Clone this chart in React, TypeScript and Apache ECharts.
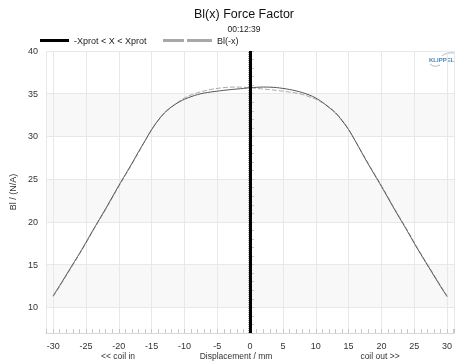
import React, { useEffect, useRef } from "react";
import * as echarts from "echarts";

const displacement = [
  -30, -29, -28, -27, -26, -25, -24, -23, -22, -21, -20, -19, -18, -17, -16, -15,
  -14, -13, -12, -11, -10, -9, -8, -7, -6, -5, -4, -3, -2, -1, 0, 1, 2, 3, 4, 5,
  6, 7, 8, 9, 10, 11, 12, 13, 14, 15, 16, 17, 18, 19, 20, 21, 22, 23, 24, 25, 26,
  27, 28, 29, 30,
];
const blValues = [
  11.35, 12.55, 13.8, 15.05, 16.3, 17.6, 18.95, 20.25, 21.55, 22.9, 24.25, 25.55,
  26.85, 28.2, 29.5, 30.8, 31.9, 32.8, 33.45, 33.95, 34.35, 34.65, 34.9, 35.08,
  35.2, 35.3, 35.4, 35.48, 35.55, 35.62, 35.7, 35.75, 35.78, 35.77, 35.72, 35.62,
  35.5, 35.33, 35.12, 34.85, 34.5, 34.0, 33.4, 32.75, 31.85, 30.8, 29.5, 28.1,
  26.75, 25.45, 24.15, 22.8, 21.45, 20.15, 18.85, 17.5, 16.2, 14.95, 13.7, 12.45,
  11.25,
];
const xprot = [0];
const xRange = [-31.1, 31.1];
const yRange = [7, 40];

const FONT = "Liberation Sans, Arial, sans-serif";

export default function App() {
  const ref = useRef<HTMLDivElement>(null);
  useEffect(() => {
    if (!ref.current) return;
    const chart = echarts.init(ref.current, null, { renderer: "svg" });
    const mirror = blValues.slice().reverse();
    chart.setOption({
      animation: false,
      textStyle: { fontFamily: FONT },
      grid: { left: 40, right: -7, top: 51, bottom: 28, containLabel: false },
      legend: [
        {
          data: ["-Xprot < X < Xprot"],
          left: 40,
          top: 36,
          itemWidth: 29,
          itemHeight: 3,
          icon: "rect",
          padding: 0,
          textStyle: { fontSize: 9, color: "#222", fontFamily: FONT },
        },
        {
          data: ["Bl(-x)"],
          left: 163,
          top: 36,
          itemWidth: 49,
          itemHeight: 3,
          icon: "path://M0 0h21v3h-21z M24 0h25v3h-25z",
          padding: 0,
          textStyle: { fontSize: 9, color: "#222", fontFamily: FONT },
        },
      ],
      xAxis: {
        type: "value",
        min: xRange[0],
        max: xRange[1],
        splitNumber: 12,
        axisLine: { show: true, lineStyle: { color: "#d8d8d8" } },
        axisTick: { show: true, inside: true, length: 4, lineStyle: { color: "#c8c8c8" } },
        minorTick: { show: true, splitNumber: 5, length: 4, lineStyle: { color: "#c8c8c8" } },
        axisLabel: {
          fontSize: 9,
          color: "#333",
          margin: 8,
          showMinLabel: false,
          showMaxLabel: false,
          fontFamily: FONT,
        },
        splitLine: { show: true, lineStyle: { color: "#e8e8e8" } },
      },
      yAxis: {
        type: "value",
        min: yRange[0],
        max: yRange[1],
        splitNumber: 7,
        name: "Bl / (N/A)",
        nameLocation: "middle",
        nameGap: 27,
        nameTextStyle: { fontSize: 9, color: "#333", fontFamily: FONT },
        axisLine: { show: true, lineStyle: { color: "#d8d8d8" } },
        axisTick: { show: true, inside: true, length: 4, lineStyle: { color: "#c8c8c8" } },
        minorTick: { show: true, splitNumber: 5, length: 4, lineStyle: { color: "#c8c8c8" } },
        axisLabel: {
          fontSize: 9,
          color: "#333",
          margin: 8,
          showMinLabel: false,
          fontFamily: FONT,
        },
        splitLine: { show: true, lineStyle: { color: "#e8e8e8" } },
        splitArea: { show: true, areaStyle: { color: ["rgba(255,255,255,0)", "#f8f8f8"] } },
      },
      series: [
        {
          name: "Bl(-x)",
          type: "line",
          data: displacement.map((x, i) => [x, mirror[i]]),
          symbol: "none",
          smooth: 0.4,
          itemStyle: { color: "#a8a8a8" },
          lineStyle: { color: "#a8a8a8", width: 1, type: [5, 2] },
          z: 3,
        },
        {
          name: "Bl(x)",
          type: "line",
          data: displacement.map((x, i) => [x, blValues[i]]),
          symbol: "none",
          smooth: 0.4,
          itemStyle: { color: "#555" },
          lineStyle: { color: "#555", width: 1 },
          z: 4,
        },
        {
          name: "-Xprot < X < Xprot",
          type: "line",
          data: [],
          itemStyle: { color: "#000" },
          lineStyle: { color: "#000", width: 3 },
          z: 5,
          markLine: {
            silent: true,
            symbol: "none",
            label: { show: false },
            data: [
              { xAxis: xprot[0] - 0.3, lineStyle: { color: "#aaa", width: 1, type: [1, 1] } },
              { xAxis: xprot[0], lineStyle: { color: "#000", width: 3, type: "solid" } },
            ],
          },
        },
      ],
      graphic: [
        {
          type: "text",
          x: 244,
          y: 14,
          style: {
            text: "Bl(x) Force Factor",
            fontSize: 12.5,
            fontFamily: FONT,
            fill: "#111",
            textAlign: "center",
            textVerticalAlign: "middle",
          },
        },
        {
          type: "text",
          x: 244,
          y: 29,
          style: {
            text: "00:12:39",
            fontSize: 8.5,
            fontFamily: FONT,
            fill: "#222",
            textAlign: "center",
            textVerticalAlign: "middle",
          },
        },
        {
          type: "text",
          x: 118,
          y: 356,
          style: { text: "<< coil in", fontSize: 8.5, fontFamily: FONT, fill: "#333", textAlign: "center", textVerticalAlign: "middle" },
        },
        {
          type: "text",
          x: 236,
          y: 356,
          style: { text: "Displacement / mm", fontSize: 8.5, fontFamily: FONT, fill: "#333", textAlign: "center", textVerticalAlign: "middle" },
        },
        {
          type: "text",
          x: 380,
          y: 356,
          style: { text: "coil out >>", fontSize: 8.5, fontFamily: FONT, fill: "#333", textAlign: "center", textVerticalAlign: "middle" },
        },
        {
          type: "text",
          x: 429,
          y: 60,
          style: { text: "KLIPPEL", fontSize: 6, fontWeight: "bold", fontFamily: FONT, fill: "#4a86b5", textAlign: "left", textVerticalAlign: "middle" },
        },
        {
          type: "bezierCurve",
          shape: { x1: 442, y1: 56, cpx1: 446, cpy1: 52, x2: 455, y2: 53 },
          style: { stroke: "#9ab", lineWidth: 0.8, fill: "none" },
        },
        {
          type: "bezierCurve",
          shape: { x1: 430, y1: 64, cpx1: 434, cpy1: 68, x2: 440, y2: 65 },
          style: { stroke: "#9ab", lineWidth: 0.8, fill: "none" },
        },
      ],
    });
    return () => chart.dispose();
  }, []);
  return (
    <div
      ref={ref}
      style={{ position: "fixed", left: 0, top: 0, width: 455, height: 361 }}
    />
  );
}
